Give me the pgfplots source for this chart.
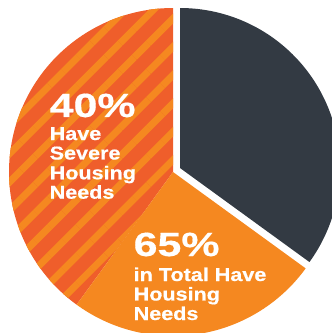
\documentclass[border=0pt]{standalone}
\usepackage{pgfplots}
\pgfplotsset{compat=1.18}
\usepackage{pgfplotstable}
\usetikzlibrary{patterns.meta}
\usepackage{fontspec}
\setmainfont{Liberation Sans}
\newfontfamily\labfont[FakeStretch=1.16,FakeBold=0.6]{Liberation Sans}
\newfontfamily\numfont[FakeStretch=1.28,FakeBold=0.5]{Liberation Sans}
\definecolor{slate}{HTML}{333A43}
\definecolor{orng}{HTML}{F58820}
\definecolor{rorng}{HTML}{EF5E2B}

\pgfplotstableread{
part value
severe 40
other 25
none 35
}\piedata

\begin{document}
\begin{tikzpicture}
\pgfplotstablegetelem{0}{value}\of\piedata \let\vSev\pgfplotsretval
\pgfplotstablegetelem{1}{value}\of\piedata \let\vOth\pgfplotsretval
\pgfplotstablegetelem{2}{value}\of\piedata \let\vNon\pgfplotsretval
\pgfmathsetmacro\aA{90}
\pgfmathsetmacro\aB{\aA+3.6*\vSev}
\pgfmathsetmacro\aC{\aB+3.6*\vOth}
\pgfmathsetmacro\aD{\aC+3.6*\vNon}
\begin{axis}[x=1pt,y=1pt,xmin=0,xmax=332,ymin=0,ymax=333,
  hide axis, clip=true, clip bounding box=upper bound]
\coordinate (ll) at (axis cs:0,0);
\coordinate (ur) at (axis cs:332,333);
% severe (hatched)
\addplot[draw=none, fill=rorng, domain=\aA:\aB, samples=120]
  ({173+164*cos(x)},{161+164*sin(x)}) -- (axis cs:173,161) -- cycle;
\addplot[draw=none, pattern={Lines[angle=45,distance=20pt,line width=7pt]},
  pattern color=orng, domain=\aA:\aB, samples=120]
  ({173+164*cos(x)},{161+164*sin(x)}) -- (axis cs:173,161) -- cycle;
% other housing needs (solid orange)
\addplot[draw=none, fill=orng, domain=\aB:\aC, samples=80]
  ({173+164*cos(x)},{161+164*sin(x)}) -- (axis cs:173,161) -- cycle;
% no housing needs (dark, exploded)
\addplot[draw=none, fill=slate, domain=\aC:\aD, samples=100]
  ({180+160*cos(x)},{165+160*sin(x)}) -- (axis cs:180,165) -- cycle;
% labels
\node[anchor=base west, inner sep=0, text=white, font=\numfont\bfseries\fontsize{33.5}{34}\selectfont] at (axis cs:49.5,216) {40\%};
\node[anchor=base west, inner sep=0, text=white, font=\labfont\bfseries\fontsize{18.6}{19}\selectfont] at (axis cs:49.5,193) {Have};
\node[anchor=base west, inner sep=0, text=white, font=\labfont\bfseries\fontsize{18.6}{19}\selectfont] at (axis cs:49.5,173.5) {Severe};
\node[anchor=base west, inner sep=0, text=white, font=\labfont\bfseries\fontsize{18.6}{19}\selectfont] at (axis cs:49.5,153.7) {Housing};
\node[anchor=base west, inner sep=0, text=white, font=\labfont\bfseries\fontsize{18.6}{19}\selectfont] at (axis cs:49.5,134.3) {Needs};
\node[anchor=base west, inner sep=0, text=white, font=\numfont\bfseries\fontsize{33.5}{34}\selectfont] at (axis cs:133.5,77) {65\%};
\node[anchor=base west, inner sep=0, text=white, font=\labfont\bfseries\fontsize{18.6}{19}\selectfont] at (axis cs:133.5,52) {in Total Have};
\node[anchor=base west, inner sep=0, text=white, font=\labfont\bfseries\fontsize{18.6}{19}\selectfont] at (axis cs:133.5,32.5) {Housing};
\node[anchor=base west, inner sep=0, text=white, font=\labfont\bfseries\fontsize{18.6}{19}\selectfont] at (axis cs:133.5,13) {Needs};
\end{axis}
\pgfresetboundingbox
\path (ll) rectangle (ur);
\end{tikzpicture}
\end{document}
